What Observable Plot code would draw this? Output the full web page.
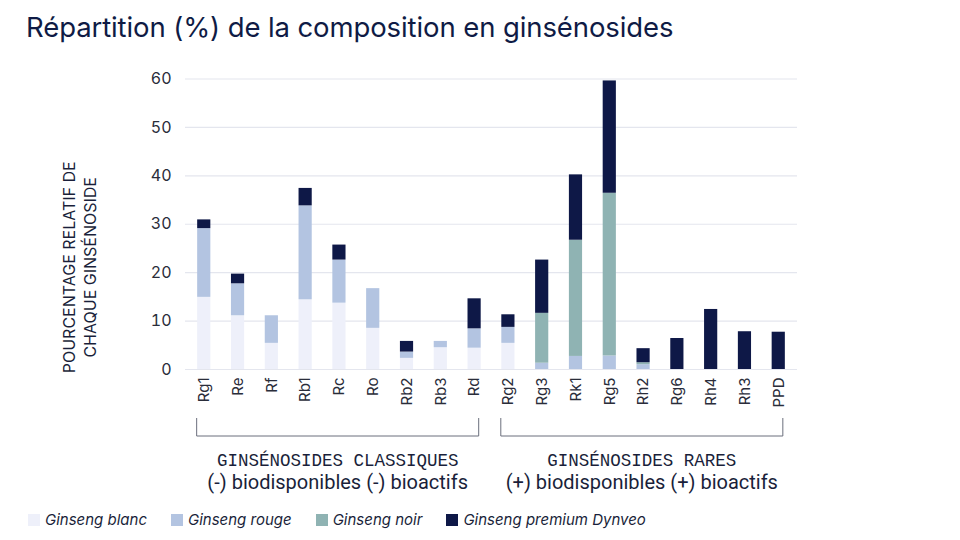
<!DOCTYPE html>
<html><head><meta charset="utf-8">
<script src="https://cdn.jsdelivr.net/npm/d3@7"></script>
<script src="https://cdn.jsdelivr.net/npm/@observablehq/plot@0.6"></script>
<style>
body{margin:0;width:960px;height:540px;background:#fff;position:relative;overflow:hidden;font-family:Inter,"Noto Sans",sans-serif;}
#title{position:absolute;left:26px;top:10px;font-size:27.5px;color:#0f1b45;font-weight:400;letter-spacing:-0.1px;}
#chart{position:absolute;left:0;top:60px;}
#legend{position:absolute;left:28px;top:510px;display:flex;gap:0;font-size:15px;font-style:italic;color:#1a1f3a;}
#legend .item{display:flex;align-items:center;margin-right:24px;}
#legend .sw{width:12px;height:12px;margin-right:5px;}
</style></head>
<body>
<div id="title">Répartition (%) de la composition en ginsénosides</div>
<div id="chart"></div>
<div id="legend"></div>
<script>
const categories = ["Rg1","Re","Rf","Rb1","Rc","Ro","Rb2","Rb3","Rd","Rg2","Rg3","Rk1","Rg5","Rh2","Rg6","Rh4","Rh3","PPD"];
const series = ["Ginseng blanc","Ginseng rouge","Ginseng noir","Ginseng premium Dynveo"];
const colors = ["#eef0fa","#b3c4e1","#8fb3b3","#0e1847"];
const blanc   = [14.9,11.1,5.4,14.4,13.7,8.5,2.3,4.5,4.4,5.4,0,0,0,0,0,0,0,0];
const rouge   = [14.2,6.6,5.7,19.4,8.9,8.2,1.3,1.3,4.0,3.3,1.3,2.7,2.8,1.0,0,0,0,0];
const noir    = [0,0,0,0,0,0,0,0,0,0,10.3,24.0,33.6,0.4,0,0,0,0];
const premium = [1.8,2.0,0,3.6,3.1,0,2.2,0,6.2,2.6,11.0,13.5,23.2,2.9,6.4,12.4,7.8,7.7];
const yTicks = [0,10,20,30,40,50,60];
const groups = [
  {from:"Rg1", to:"Rd", title:"GINSÉNOSIDES CLASSIQUES", sub:"(-) biodisponibles (-) bioactifs"},
  {from:"Rg2", to:"PPD", title:"GINSÉNOSIDES RARES", sub:"(+) biodisponibles (+) bioactifs"}
];
const yLabel = ["POURCENTAGE RELATIF DE","CHAQUE GINSÉNOSIDE"];

const vals = [blanc, rouge, noir, premium];
const data = [];
series.forEach((s,i)=>categories.forEach((c,j)=>data.push({cat:c, serie:s, value:vals[i][j]})));

const chart = Plot.plot({
  width:960, height:440,
  marginLeft:185, marginRight:163, marginTop:18.5, marginBottom:131,
  style:{fontFamily:"Inter, 'Noto Sans', sans-serif", fontSize:"15px", color:"#2a2d3a", background:"transparent"},
  x:{domain:categories, paddingInner:0.61, paddingOuter:0.36, round:false, label:null, tickRotate:-90, tickSize:0, tickPadding:8},
  y:{domain:[0,60], ticks:yTicks, label:null, tickSize:0, tickPadding:14},
  color:{domain:series, range:colors},
  marks:[
    Plot.gridY(yTicks, {stroke:"#e4e6ee", strokeOpacity:1, strokeWidth:1.2}),
    Plot.barY(data, {x:"cat", y:"value", fill:"serie"}),
  ]
});
document.getElementById("chart").appendChild(chart);

const svg = d3.select(chart);
svg.selectAll("[aria-label='y-axis tick label'] text").attr("font-size",16);
const xs = chart.scale("x"), ys = chart.scale("y");
const bw = xs.bandwidth;
const y0 = ys.apply(0);
const bTop = y0 + 49, bBot = y0 + 67;
groups.forEach(g=>{
  const x1 = xs.apply(g.from) - 0.5, x2 = xs.apply(g.to) + bw - 2;
  svg.append("path").attr("d",`M${x1},${bTop}V${bBot}H${x2}V${bTop}`)
    .attr("fill","none").attr("stroke","#6b6f7d").attr("stroke-width",1);
  const cx = (x1+x2)/2;
  svg.append("text").attr("x",cx).attr("y",y0+97).attr("text-anchor","middle")
    .attr("font-family","'Liberation Mono','DejaVu Sans Mono',monospace").attr("font-size",17.5)
    .attr("fill","#1a1f3a").text(g.title);
  svg.append("text").attr("x",cx).attr("y",y0+120).attr("text-anchor","middle")
    .attr("font-family","Roboto,'Noto Sans',sans-serif").attr("font-size",20)
    .attr("fill","#1a1f3a").text(g.sub);
});
const yl = svg.append("text").attr("transform",`translate(75,${ys.apply(21)}) rotate(-90)`)
  .attr("text-anchor","middle").attr("font-size",16).attr("fill","#1a1f3a")
  .attr("font-family","Inter,'Noto Sans',sans-serif");
yLabel.forEach((t,i)=>yl.append("tspan").attr("x",0).attr("dy",i?21:0).text(t));

const leg = document.getElementById("legend");
series.forEach((s,i)=>{
  const it = document.createElement("div"); it.className="item";
  it.innerHTML = `<span class="sw" style="background:${colors[i]}"></span><span>${s}</span>`;
  leg.appendChild(it);
});
</script>
</body></html>
